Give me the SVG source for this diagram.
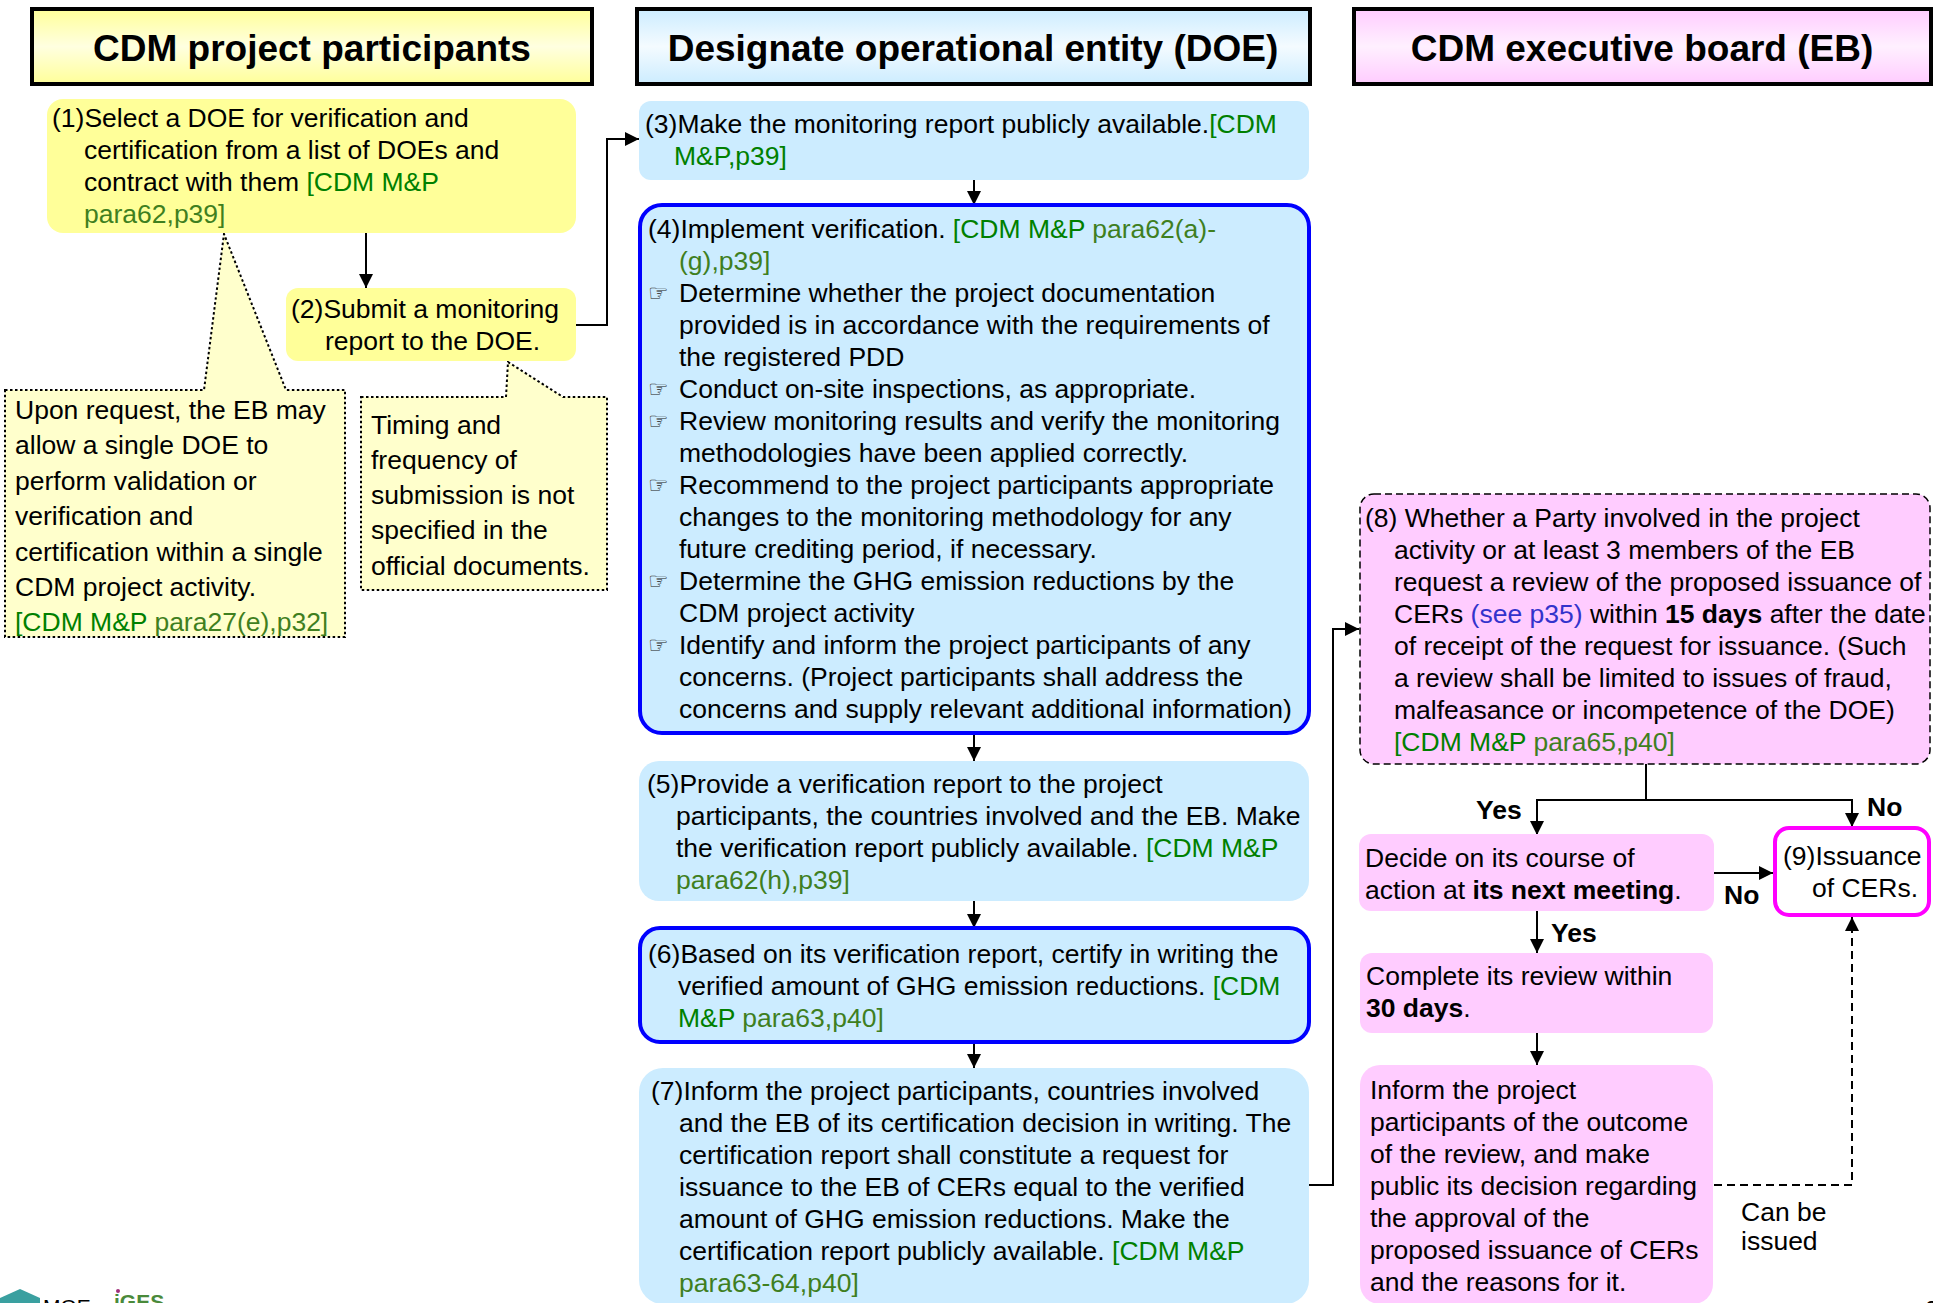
<svg xmlns="http://www.w3.org/2000/svg" width="1933" height="1303" viewBox="0 0 1933 1303">
<defs>
<linearGradient id="gY" x1="0" y1="0" x2="0" y2="1"><stop offset="0" stop-color="#FFFF99"/><stop offset="0.5" stop-color="#FFFFE0"/><stop offset="1" stop-color="#FFFF99"/></linearGradient>
<linearGradient id="gB" x1="0" y1="0" x2="0" y2="1"><stop offset="0" stop-color="#CCECFF"/><stop offset="0.5" stop-color="#F4FBFF"/><stop offset="1" stop-color="#CCECFF"/></linearGradient>
<linearGradient id="gP" x1="0" y1="0" x2="0" y2="1"><stop offset="0" stop-color="#FFCCFF"/><stop offset="0.5" stop-color="#FFF0FF"/><stop offset="1" stop-color="#FFCCFF"/></linearGradient>
<marker id="ah" markerUnits="userSpaceOnUse" markerWidth="14" markerHeight="14" refX="14" refY="7" orient="auto"><path d="M0,0 L14,7 L0,14 Z" fill="#000"/></marker>
</defs>
<style>
text{font-family:"Liberation Sans",Arial,sans-serif;font-size:26.5px;fill:#000}
.h{font-weight:bold;font-size:37px;text-anchor:middle}
.b{font-weight:bold}
.g{fill:#008000}
.o{fill:#3F7F1F}
.bl{fill:#3333CC}
.bul{font-family:"DejaVu Sans",sans-serif;font-size:23px;fill:#222}
.hdr{stroke:#000;stroke-width:4}
.yel{fill:#FFFF99}
.blu{fill:#CCECFF}
.pnk{fill:#FFCCFF}
.call{fill:#FFFFCC;stroke:#000;stroke-width:2;stroke-dasharray:2.5 2.5}
.ln{fill:none;stroke:#000;stroke-width:2}
.arr{marker-end:url(#ah)}
.dash{stroke-dasharray:8 5}
</style>

<g id="header-participants"><rect class="hdr" x="32" y="9" width="560" height="75" fill="url(#gY)"/><text class="h" x="312" y="61">CDM project participants</text></g>
<g id="header-doe"><rect class="hdr" x="637" y="9" width="673" height="75" fill="url(#gB)"/><text class="h" x="973" y="61">Designate operational entity (DOE)</text></g>
<g id="header-eb"><rect class="hdr" x="1354" y="9" width="577" height="75" fill="url(#gP)"/><text class="h" x="1642" y="61">CDM executive board (EB)</text></g>

<g id="connectors">
<path class="ln arr" d="M366,233 V288"/>
<path class="ln arr" d="M576,325 H607 V139 H639"/>
<path class="ln arr" d="M974,180 V205"/>
<path class="ln arr" d="M974,733 V761"/>
<path class="ln arr" d="M974,901 V928"/>
<path class="ln arr" d="M974,1042 V1068"/>
<path class="ln arr" d="M1309,1185 H1333 V629 H1359"/>
<path class="ln" d="M1646,764 V800 M1537,800 H1852"/>
<path class="ln arr" d="M1537,799 V835"/>
<path class="ln arr" d="M1852,799 V827"/>
<path class="ln arr" d="M1714,873 H1773"/>
<path class="ln arr" d="M1537,911 V953"/>
<path class="ln arr" d="M1537,1033 V1065"/>
<path class="ln arr dash" d="M1714,1185 H1852 V917"/>
</g>

<g id="callout-single-doe">
<path class="call" d="M5,390 H204 L224,234 L286,390 H345 V637 H5 Z"/>
<text x="15" y="419">Upon request, the EB may</text>
<text x="15" y="454">allow a single DOE to</text>
<text x="15" y="490">perform validation or</text>
<text x="15" y="525">verification and</text>
<text x="15" y="561">certification within a single</text>
<text x="15" y="596">CDM project activity.</text>
<text x="15" y="631"><tspan class="g">[CDM M&amp;P </tspan><tspan class="o">para27(e),p32]</tspan></text>
</g>

<g id="callout-timing">
<path class="call" d="M361,397 H506 L508,362 L563,397 H607 V590 H361 Z"/>
<text x="371" y="434">Timing and</text>
<text x="371" y="469">frequency of</text>
<text x="371" y="504">submission is not</text>
<text x="371" y="539">specified in the</text>
<text x="371" y="575">official documents.</text>
</g>

<g id="step1">
<rect class="yel" x="47" y="99" width="529" height="134" rx="16"/>
<text x="52" y="127">(1)Select a DOE for verification and</text>
<text x="84" y="159">certification from a list of DOEs and</text>
<text x="84" y="191">contract with them <tspan class="g">[CDM M&amp;P</tspan></text>
<text x="84" y="223" class="o">para62,p39]</text>
</g>

<g id="step2">
<rect class="yel" x="286" y="288" width="290" height="73" rx="12"/>
<text x="291" y="318">(2)Submit a monitoring</text>
<text x="325" y="350">report to the DOE.</text>
</g>

<g id="step3">
<rect class="blu" x="639" y="101" width="670" height="79" rx="12"/>
<text x="645" y="133">(3)Make the monitoring report publicly available.<tspan class="g">[CDM</tspan></text>
<text x="674" y="165" class="g">M&amp;P,p39]</text>
</g>

<g id="step4">
<rect class="blu" x="640" y="205" width="669" height="528" rx="22" stroke="#0000FF" stroke-width="4"/>
<text x="648" y="238">(4)Implement verification. <tspan class="g">[CDM M&amp;P </tspan><tspan class="o">para62(a)-</tspan></text>
<text x="679" y="270" class="o">(g),p39]</text>
<text class="bul" x="648" y="301">☞</text>
<text x="679" y="302">Determine whether the project documentation</text>
<text x="679" y="334">provided is in accordance with the requirements of</text>
<text x="679" y="366">the registered PDD</text>
<text class="bul" x="648" y="397">☞</text>
<text x="679" y="398">Conduct on-site inspections, as appropriate.</text>
<text class="bul" x="648" y="429">☞</text>
<text x="679" y="430">Review monitoring results and verify the monitoring</text>
<text x="679" y="462">methodologies have been applied correctly.</text>
<text class="bul" x="648" y="493">☞</text>
<text x="679" y="494">Recommend to the project participants appropriate</text>
<text x="679" y="526">changes to the monitoring methodology for any</text>
<text x="679" y="558">future crediting period, if necessary.</text>
<text class="bul" x="648" y="589">☞</text>
<text x="679" y="590">Determine the GHG emission reductions by the</text>
<text x="679" y="622">CDM project activity</text>
<text class="bul" x="648" y="653">☞</text>
<text x="679" y="654">Identify and inform the project participants of any</text>
<text x="679" y="686">concerns. (Project participants shall address the</text>
<text x="679" y="718">concerns and supply relevant additional information)</text>
</g>

<g id="step5">
<rect class="blu" x="639" y="761" width="670" height="140" rx="20"/>
<text x="647" y="793">(5)Provide a verification report to the project</text>
<text x="676" y="825">participants, the countries involved and the EB. Make</text>
<text x="676" y="857">the verification report publicly available. <tspan class="g">[CDM M&amp;P</tspan></text>
<text x="676" y="889" class="o">para62(h),p39]</text>
</g>

<g id="step6">
<rect class="blu" x="640" y="928" width="669" height="114" rx="20" stroke="#0000FF" stroke-width="4"/>
<text x="648" y="963">(6)Based on its verification report, certify in writing the</text>
<text x="678" y="995">verified amount of GHG emission reductions. <tspan class="g">[CDM</tspan></text>
<text x="678" y="1027"><tspan class="g">M&amp;P </tspan><tspan class="o">para63,p40]</tspan></text>
</g>

<g id="step7">
<rect class="blu" x="639" y="1068" width="670" height="236" rx="24"/>
<text x="651" y="1100">(7)Inform the project participants, countries involved</text>
<text x="679" y="1132">and the EB of its certification decision in writing. The</text>
<text x="679" y="1164">certification report shall constitute a request for</text>
<text x="679" y="1196">issuance to the EB of CERs equal to the verified</text>
<text x="679" y="1228">amount of GHG emission reductions. Make the</text>
<text x="679" y="1260">certification report publicly available. <tspan class="g">[CDM M&amp;P</tspan></text>
<text x="679" y="1292" class="o">para63-64,p40]</text>
</g>

<g id="step8">
<rect class="pnk" x="1360" y="494" width="570" height="270" rx="14" stroke="#000" stroke-width="1.5" stroke-dasharray="7 4"/>
<text x="1365" y="527">(8) Whether a Party involved in the project</text>
<text x="1394" y="559">activity or at least 3 members of the EB</text>
<text x="1394" y="591">request a review of the proposed issuance of</text>
<text x="1394" y="623">CERs <tspan class="bl">(see p35)</tspan> within <tspan class="b">15 days</tspan> after the date</text>
<text x="1394" y="655">of receipt of the request for issuance. (Such</text>
<text x="1394" y="687">a review shall be limited to issues of fraud,</text>
<text x="1394" y="719">malfeasance or incompetence of the DOE)</text>
<text x="1394" y="751"><tspan class="g">[CDM M&amp;P </tspan><tspan class="o">para65,p40]</tspan></text>
</g>

<g id="decide">
<rect class="pnk" x="1359" y="834" width="355" height="77" rx="12"/>
<text x="1365" y="867">Decide on its course of</text>
<text x="1365" y="899">action at <tspan class="b">its next meeting</tspan>.</text>
</g>

<g id="step9">
<rect x="1775" y="828" width="154" height="87" rx="14" fill="#FFFFFF" stroke="#FF00FF" stroke-width="4"/>
<text x="1783" y="865">(9)Issuance</text>
<text x="1812" y="897">of CERs.</text>
</g>

<g id="complete">
<rect class="pnk" x="1360" y="953" width="353" height="80" rx="12"/>
<text x="1366" y="985">Complete its review within</text>
<text x="1366" y="1017"><tspan class="b">30 days</tspan>.</text>
</g>

<g id="inform">
<rect class="pnk" x="1360" y="1065" width="353" height="239" rx="20"/>
<text x="1370" y="1099">Inform the project</text>
<text x="1370" y="1131">participants of the outcome</text>
<text x="1370" y="1163">of the review, and make</text>
<text x="1370" y="1195">public its decision regarding</text>
<text x="1370" y="1227">the approval of the</text>
<text x="1370" y="1259">proposed issuance of CERs</text>
<text x="1370" y="1291">and the reasons for it.</text>
</g>

<g id="labels">
<text class="b" x="1476" y="819">Yes</text>
<text class="b" x="1867" y="816">No</text>
<text class="b" x="1724" y="904">No</text>
<text class="b" x="1551" y="942">Yes</text>
<text x="1741" y="1221">Can be</text>
<text x="1741" y="1250">issued</text>
</g>

<g id="footer">
<path d="M0,1303 L0,1298 L20,1289 L40,1298 L40,1303 Z" fill="#3AA0A0"/>
<text x="43" y="1314" style="font-size:21px">MOE</text>
<text x="114" y="1309" style="font-size:21px;font-weight:bold;fill:#4A8A3A">iGES</text>
<circle cx="118" cy="1291" r="2" fill="#A0307A"/>
<text x="1925" y="1318" style="font-size:24px">2</text>
</g>
</svg>
